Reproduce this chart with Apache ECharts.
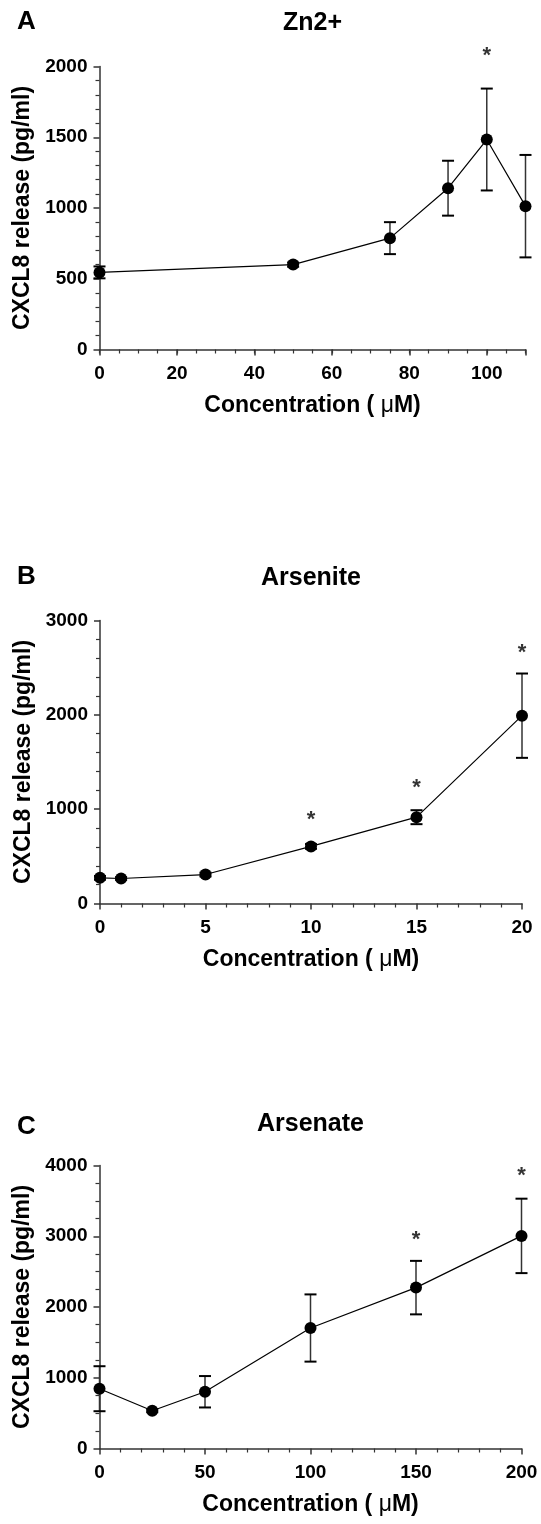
<!DOCTYPE html>
<html>
<head>
<meta charset="utf-8">
<script src="https://cdn.jsdelivr.net/npm/echarts@6/dist/echarts.min.js"></script>
<style>
  html, body { margin: 0; padding: 0; background: #fff; }
  #chart { width: 541px; height: 1524px; }
</style>
</head>
<body>
<div id="chart"></div>
<script>
// CXCL8 release (mean ± SEM) against metal concentration
const zincConc = [0, 50, 75, 90, 100, 110];
const zincMean = [545, 600, 787, 1140, 1484, 1013];
const zincSem = [42, 15, 113, 194, 360, 362];
const zincStarConc = [100];
const zincStarLevel = [2105];
const zincXTicks = [0, 20, 40, 60, 80, 100];

const arseniteConc = [0, 1, 5, 10, 15, 20];
const arseniteMean = [272, 265, 307, 605, 915, 1991];
const arseniteSem = [20, 15, 20, 25, 74, 447];
const arseniteStarConc = [10, 15, 20];
const arseniteStarLevel = [925, 1269, 2699];

const arsenateConc = [0, 25, 50, 100, 150, 200];
const arsenateMean = [845, 533, 802, 1703, 2274, 3005];
const arsenateSem = [318, 20, 222, 475, 378, 526];
const arsenateStarConc = [150, 200];
const arsenateStarLevel = [3005, 3915];

const panelLetters = ['A', 'B', 'C'];
const panelTitles = ['Zn2+', 'Arsenite', 'Arsenate'];
const yAxisName = 'CXCL8 release (pg/ml)';
const xAxisName = 'Concentration ( {mu|μ}M)';

const FONT = '"Liberation Sans", Arial, Helvetica, sans-serif';
const AXIS_COLOR = '#333';

const panels = [
  { conc: zincConc, mean: zincMean, sem: zincSem, starConc: zincStarConc, starLevel: zincStarLevel,
    xMax: 110, xInterval: 20, xMinorEvery: 5, yMax: 2000, yInterval: 500, yMinorSplit: 5,
    grid: { left: 99.5, top: 66.5, width: 426, height: 283 }, titleY: 23, letterY: 22 },
  { conc: arseniteConc, mean: arseniteMean, sem: arseniteSem, starConc: arseniteStarConc, starLevel: arseniteStarLevel,
    xMax: 20, xInterval: 5, xMinorSplit: 5, yMax: 3000, yInterval: 1000, yMinorSplit: 5,
    grid: { left: 100, top: 620.5, width: 422, height: 283 }, titleY: 578, letterY: 577 },
  { conc: arsenateConc, mean: arsenateMean, sem: arsenateSem, starConc: arsenateStarConc, starLevel: arsenateStarLevel,
    xMax: 200, xInterval: 50, xMinorSplit: 5, yMax: 4000, yInterval: 1000, yMinorSplit: 4,
    grid: { left: 99.5, top: 1165.5, width: 422, height: 283 }, titleY: 1124, letterY: 1127 }
];

const tickLabelStyle = { fontFamily: FONT, fontSize: 19, fontWeight: 'bold', color: '#000' };
const axisLineStyle = { show: true, lineStyle: { color: AXIS_COLOR, width: 1.5 } };

function errorBarItem(params, api) {
  const x = api.value(0), m = api.value(1), s = api.value(2);
  const top = api.coord([x, m + s]);
  const bot = api.coord([x, m - s]);
  const half = 6;
  return {
    type: 'group',
    children: [
      { type: 'line', shape: { x1: top[0], y1: top[1], x2: bot[0], y2: bot[1] },
        style: { stroke: '#333', lineWidth: 1.5 } },
      { type: 'line', shape: { x1: top[0] - half, y1: top[1], x2: top[0] + half, y2: top[1] },
        style: { stroke: '#000', lineWidth: 2 } },
      { type: 'line', shape: { x1: bot[0] - half, y1: bot[1], x2: bot[0] + half, y2: bot[1] },
        style: { stroke: '#000', lineWidth: 2 } }
    ]
  };
}

const grids = [], xAxes = [], yAxes = [], series = [], titles = [];

panels.forEach((p, i) => {
  grids.push(Object.assign({ containLabel: false, outerBoundsMode: 'none' }, p.grid));

  titles.push({
    text: panelLetters[i], left: 17, top: p.letterY, padding: 0,
    textVerticalAlign: 'middle',
    textStyle: { fontFamily: FONT, fontSize: 26, fontWeight: 'bold', color: '#000' }
  });
  titles.push({
    text: panelTitles[i], left: p.grid.left + p.grid.width / 2, top: p.titleY, padding: 0,
    textAlign: 'center', textVerticalAlign: 'middle',
    textStyle: { fontFamily: FONT, fontSize: 25, fontWeight: 'bold', color: '#000' }
  });

  const mainX = xAxes.length;
  const xAxis = {
    type: 'value', gridIndex: i, position: 'bottom', min: 0, max: p.xMax, interval: p.xInterval,
    axisLine: axisLineStyle,
    axisTick: { show: true, length: 6, lineStyle: { color: AXIS_COLOR, width: 1.5 } },
    axisLabel: Object.assign({ margin: 15, formatter: v => String(v) }, tickLabelStyle),
    splitLine: { show: false },
    name: xAxisName, nameLocation: 'middle', nameGap: 45,
    nameTextStyle: {
      fontFamily: FONT, fontSize: 23, fontWeight: 'bold', color: '#000',
      rich: { mu: { fontFamily: FONT, fontSize: 23, fontWeight: 'normal', color: '#000' } }
    }
  };
  if (p.xMinorSplit) {
    xAxis.minorTick = { show: true, splitNumber: p.xMinorSplit, length: 4,
      lineStyle: { color: AXIS_COLOR, width: 1.2 } };
  } else {
    // labels only at the listed ticks; the axis end carries a bare tick
    xAxis.axisLabel.formatter = v => (zincXTicks.indexOf(v) >= 0 ? String(v) : '');
  }
  xAxes.push(xAxis);

  if (p.xMinorEvery) {
    // finer tick row sharing the same scale
    xAxes.push({
      type: 'value', gridIndex: i, position: 'bottom', min: 0, max: p.xMax, interval: p.xMinorEvery,
      axisLine: { show: false },
      axisTick: { show: true, length: 4, lineStyle: { color: AXIS_COLOR, width: 1.2 } },
      axisLabel: { show: false },
      splitLine: { show: false }
    });
  }

  yAxes.push({
    type: 'value', gridIndex: i, min: 0, max: p.yMax, interval: p.yInterval,
    axisLine: axisLineStyle,
    axisTick: { show: true, length: 6, lineStyle: { color: AXIS_COLOR, width: 1.5 } },
    minorTick: { show: true, splitNumber: p.yMinorSplit, length: 4,
      lineStyle: { color: AXIS_COLOR, width: 1.2 } },
    axisLabel: Object.assign({ margin: 12, formatter: v => String(v) }, tickLabelStyle),
    splitLine: { show: false },
    name: yAxisName, nameLocation: 'middle', nameGap: 63,
    nameTextStyle: { fontFamily: FONT, fontSize: 23, fontWeight: 'bold', color: '#000' }
  });

  const pts = p.conc.map((c, k) => [c, p.mean[k], p.sem[k]]);

  series.push({
    type: 'custom', xAxisIndex: mainX, yAxisIndex: i,
    renderItem: errorBarItem,
    dimensions: ['x', 'y', 'sem'],
    encode: { x: 0, y: 1 },
    data: pts, z: 2, silent: true, clip: false
  });
  series.push({
    type: 'line', xAxisIndex: mainX, yAxisIndex: i,
    data: p.conc.map((c, k) => [c, p.mean[k]]),
    symbol: 'circle', symbolSize: 12, showSymbol: true,
    itemStyle: { color: '#000' },
    lineStyle: { color: '#000', width: 1.2 },
    z: 3, silent: true, clip: false
  });
  series.push({
    type: 'scatter', xAxisIndex: mainX, yAxisIndex: i,
    data: p.starConc.map((c, k) => [c, p.starLevel[k]]),
    symbol: 'circle', symbolSize: 1, itemStyle: { color: 'rgba(0,0,0,0)' },
    label: { show: true, position: 'inside', formatter: '*', offset: [0, 4],
      fontFamily: FONT, fontSize: 22, fontWeight: 'bold', color: '#000' },
    z: 4, silent: true, clip: false
  });
});

const chart = echarts.init(document.getElementById('chart'), null, { renderer: 'canvas' });
chart.setOption({
  animation: false,
  backgroundColor: '#fff',
  title: titles,
  grid: grids,
  xAxis: xAxes,
  yAxis: yAxes,
  series: series
});
</script>
</body>
</html>
